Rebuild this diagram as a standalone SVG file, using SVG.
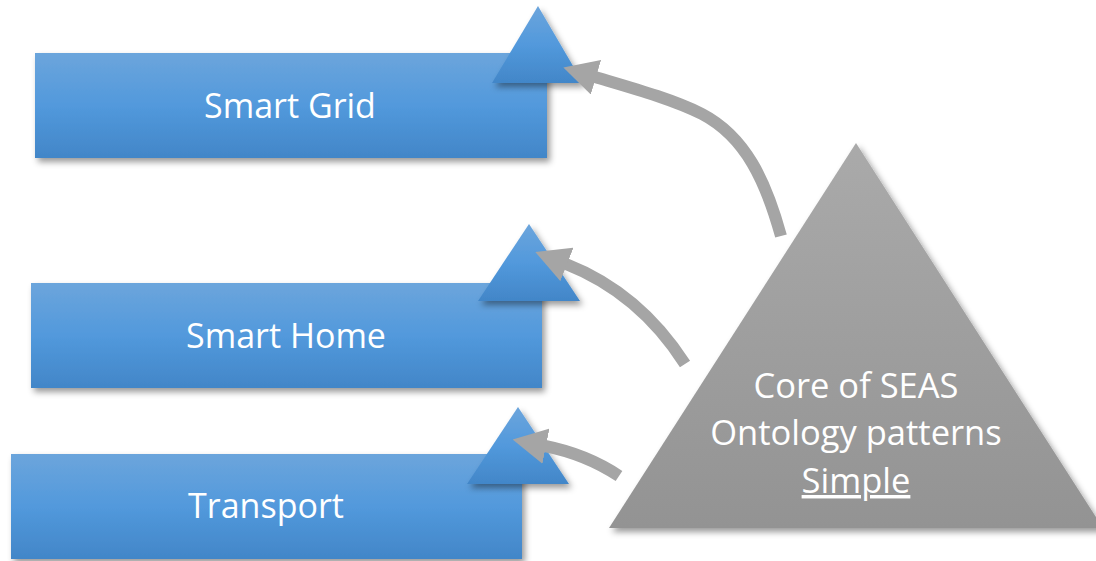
<svg xmlns="http://www.w3.org/2000/svg" width="1096" height="561" viewBox="0 0 1096 561">
<defs>
<linearGradient id="blue" x1="0" y1="0" x2="0" y2="1">
<stop offset="0" stop-color="#6ca5dc"/>
<stop offset="0.5" stop-color="#5299dc"/>
<stop offset="1" stop-color="#4286c8"/>
</linearGradient>
<linearGradient id="gray" x1="0" y1="0" x2="0" y2="1">
<stop offset="0" stop-color="#aaaaaa"/>
<stop offset="1" stop-color="#939393"/>
</linearGradient>
<filter id="shadow" x="-10%" y="-10%" width="130%" height="140%">
<feDropShadow dx="3" dy="4" stdDeviation="3" flood-color="#000" flood-opacity="0.4"/>
</filter>
<marker id="head" markerUnits="userSpaceOnUse" viewBox="0 0 34 36" refX="1" refY="18" markerWidth="34" markerHeight="36" orient="auto">
<path d="M0,0 L34,18 L0,36 z" fill="#a5a5a5"/>
</marker>
<style>
.box{fill:url(#blue);filter:url(#shadow)}
.tri{fill:url(#blue);filter:url(#shadow)}
.lbl{font-family:"Open Sans","Noto Sans",sans-serif;font-size:34px;fill:#ffffff;text-anchor:middle}
.core{font-family:"Open Sans","Noto Sans",sans-serif;font-size:34.5px;fill:#ffffff;text-anchor:middle}
.arrow{fill:none;stroke:#a5a5a5;stroke-width:12;marker-end:url(#head)}
</style>
</defs>
<rect width="1096" height="561" fill="#ffffff"/>
<g id="smart-grid">
<rect class="box" x="35" y="53" width="512" height="105"/>
<text class="lbl" x="290" y="118">Smart Grid</text>
<polygon class="tri" points="492,83 538,6 583,83"/>
</g>
<g id="smart-home">
<rect class="box" x="31" y="283" width="511" height="105"/>
<text class="lbl" x="286" y="348">Smart Home</text>
<polygon class="tri" points="478,301 529,224 580,301"/>
</g>
<g id="transport">
<rect class="box" x="11" y="454" width="511" height="105"/>
<text class="lbl" x="266" y="518">Transport</text>
<polygon class="tri" points="467,484 518,407 569,484"/>
</g>
<g id="core">
<polygon points="609,528 856,143 1103,528" fill="url(#gray)" filter="url(#shadow)"/>
<text class="core" x="856" y="398">Core of SEAS</text>
<text class="core" x="856" y="445">Ontology patterns</text>
<text class="core" x="856" y="493" text-decoration="underline">Simple</text>
</g>
<g id="connectors">
<path class="arrow" d="M781,236 C766,182 746,137 702,114 C672,99 632,88 595,77"/>
<path class="arrow" d="M685,364 C660,325 622,286 566,264"/>
<path class="arrow" d="M619,476 C598,462 575,452 545,446"/>
</g>
</svg>
